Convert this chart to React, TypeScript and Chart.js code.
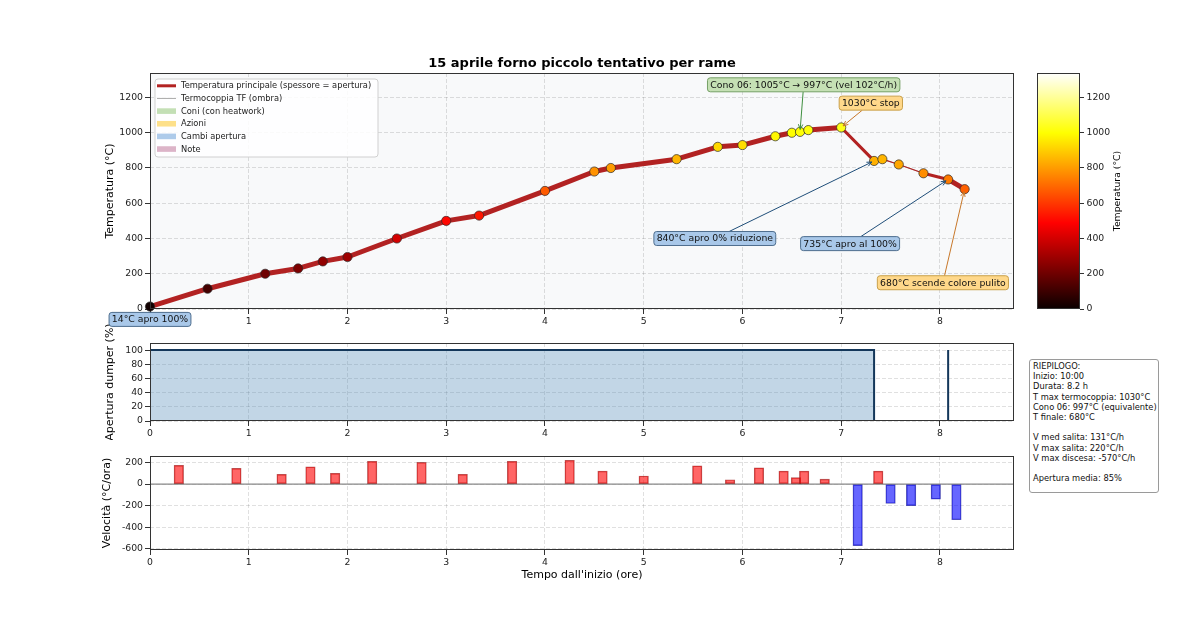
import React, { useEffect, useRef } from "react";
import { Chart, registerables } from "chart.js";

Chart.register(...registerables);

const FONT = "'DejaVu Sans', 'Liberation Sans', sans-serif";

// ---------------- DATA ----------------
const chartTitle = "15 aprile forno piccolo tentativo per rame";
const timesH = [0, 0.583, 1.167, 1.5, 1.75, 2.0, 2.5, 3.0, 3.333, 4.0, 4.5, 4.667, 5.333, 5.75, 6.0, 6.333, 6.5, 6.583, 6.667, 7.0, 7.333, 7.417, 7.583, 7.833, 8.083, 8.25];
const tempC = [14, 115, 200, 230, 270, 295, 400, 500, 530, 670, 780, 800, 850, 920, 930, 980, 1000, 1005, 1015, 1030, 840, 850, 820, 770, 735, 680];
const aperturaPct = [100, 100, 100, 100, 100, 100, 100, 100, 100, 100, 100, 100, 100, 100, 100, 100, 100, 100, 100, 100, 0, 0, 0, 0, 100, 100];

const dumperTimes = [0, 7.333, 8.083];
const dumperValues = [100, 0, 100];

const velTimes = [0.292, 0.875, 1.333, 1.625, 1.875, 2.25, 2.75, 3.167, 3.667, 4.25, 4.583, 5.0, 5.542, 5.875, 6.167, 6.417, 6.542, 6.625, 6.833, 7.167, 7.375, 7.5, 7.708, 7.958, 8.167];
const velValues = [173, 146, 90, 160, 100, 210, 200, 90, 210, 220, 120, 75, 168, 40, 150, 120, 60, 120, 45, -570, 120, -180, -200, -140, -330];

const xTicks = [0, 1, 2, 3, 4, 5, 6, 7, 8];
const tempTicks = [0, 200, 400, 600, 800, 1000, 1200];
const dumperTicks = [0, 20, 40, 60, 80, 100];
const velTicks = [-600, -400, -200, 0, 200];
const X_MAX = 8.75;
const TEMP_MAX = 1339;
const VEL_MIN = -609.5;
const VEL_MAX = 259.5;
const DUMPER_MAX = 110;

const legendLabels = [
  "Temperatura principale (spessore = apertura)",
  "Termocoppia TF (ombra)",
  "Coni (con heatwork)",
  "Azioni",
  "Cambi apertura",
  "Note",
];

// annotation: text, kind, target (time, temp), text anchor (time, temp)
const annTexts = [
  "14°C apro 100%",
  "Cono 06: 1005°C → 997°C (vel 102°C/h)",
  "1030°C stop",
  "840°C apro 0% riduzione",
  "735°C apro al 100%",
  "680°C scende colore pulito",
];
const annKinds = ["apertura", "cono", "azione", "apertura", "apertura", "azione"];
const annTargetT = [0, 6.583, 7.0, 7.333, 8.083, 8.25];
const annTargetV = [14, 1005, 1030, 840, 735, 680];
const annTextT = [0, 6.62, 7.3, 5.72, 7.09, 8.03];
const annTextV = [-59, 1272, 1168, 400, 371, 149];

const summaryLines = [
  "RIEPILOGO:",
  "Inizio: 10:00",
  "Durata: 8.2 h",
  "T max termocoppia: 1030°C",
  "Cono 06: 997°C (equivalente)",
  "T finale: 680°C",
  "",
  "V med salita: 131°C/h",
  "V max salita: 220°C/h",
  "V max discesa: -570°C/h",
  "",
  "Apertura media: 85%",
];

// ---------------- STYLES ----------------
const KIND_STYLE: Record<string, { face: string; edge: string; arrow: string }> = {
  apertura: { face: "#a9c8e9", edge: "#4e6e8e", arrow: "#1f4e79" },
  cono: { face: "#c5e0b4", edge: "#76a066", arrow: "#3f8f3f" },
  azione: { face: "#ffd88a", edge: "#c9a04a", arrow: "#c8782a" },
};
const LEGEND_PATCH = ["", "", "#c3dfb5", "#fde08a", "#aecbea", "#dcb4c8"];

function hot(v: number): string {
  const t = Math.max(0, Math.min(1, v / TEMP_MAX));
  const r = Math.min(1, 0.0416 + (t / 0.365079) * (1 - 0.0416));
  const g = Math.max(0, Math.min(1, (t - 0.365079) / (0.746032 - 0.365079)));
  const b = Math.max(0, Math.min(1, (t - 0.746032) / (1 - 0.746032)));
  return `rgb(${Math.round(r * 255)},${Math.round(g * 255)},${Math.round(b * 255)})`;
}

const TICK_FONT = { family: FONT, size: 9.3 };
const LABEL_FONT = { family: FONT, size: 11 };
const GRID_COLOR = "rgba(0,0,0,0.12)";
const TICK_COLOR = "#333";
const TEXT_COLOR = "#222";
const plainTick = (v: any) => String(v);

function fixWidth(w: number) {
  return (s: any) => {
    s.width = w;
  };
}
function fixHeight(h: number) {
  return (s: any) => {
    s.height = h;
  };
}

function xScale(height: number, titleText?: string) {
  return {
    type: "linear",
    min: 0,
    max: X_MAX,
    offset: false,
    afterBuildTicks: (s: any) => {
      s.ticks = xTicks.map((v) => ({ value: v }));
    },
    afterFit: fixHeight(height),
    ticks: { font: TICK_FONT, color: TEXT_COLOR, padding: 2, maxRotation: 0, autoSkip: false, callback: plainTick },
    grid: { color: GRID_COLOR, tickColor: TICK_COLOR, tickLength: 5, tickBorderDash: [], drawTicks: true, offset: false },
    border: { display: false, dash: [4, 2] },
    title: titleText
      ? { display: true, text: titleText, font: LABEL_FONT, color: "#000", padding: { top: 0, bottom: 28.4 } }
      : { display: false },
  };
}

function yScale(min: number, max: number, ticks: number[], titleText: string, padTop: number) {
  return {
    type: "linear",
    min,
    max,
    afterBuildTicks: (s: any) => {
      s.ticks = ticks.map((v) => ({ value: v }));
    },
    afterFit: fixWidth(55),
    ticks: { font: TICK_FONT, color: TEXT_COLOR, padding: 2, callback: plainTick },
    grid: { color: GRID_COLOR, tickColor: TICK_COLOR, tickLength: 5, tickBorderDash: [], drawTicks: true },
    border: { display: false, dash: [4, 2] },
    title: { display: true, text: titleText, font: LABEL_FONT, color: "#000", padding: { top: padTop, bottom: 0 } },
  };
}

function drawFrame(chart: any) {
  const { ctx, chartArea: a } = chart;
  ctx.save();
  ctx.strokeStyle = "#333";
  ctx.lineWidth = 1;
  ctx.strokeRect(a.left + 0.5, a.top + 0.5, a.right - a.left - 1, a.bottom - a.top - 1);
  ctx.restore();
}

function roundRect(ctx: CanvasRenderingContext2D, x: number, y: number, w: number, h: number, r: number) {
  ctx.beginPath();
  ctx.moveTo(x + r, y);
  ctx.lineTo(x + w - r, y);
  ctx.quadraticCurveTo(x + w, y, x + w, y + r);
  ctx.lineTo(x + w, y + h - r);
  ctx.quadraticCurveTo(x + w, y + h, x + w - r, y + h);
  ctx.lineTo(x + r, y + h);
  ctx.quadraticCurveTo(x, y + h, x, y + h - r);
  ctx.lineTo(x, y + r);
  ctx.quadraticCurveTo(x, y, x + r, y);
  ctx.closePath();
}

const topPlugin = {
  id: "topDecor",
  beforeDraw(chart: any) {
    const { ctx, chartArea: a } = chart;
    ctx.save();
    ctx.fillStyle = "#f8f9fa";
    ctx.fillRect(a.left, a.top, a.right - a.left, a.bottom - a.top);
    ctx.restore();
  },
  afterDraw(chart: any) {
    const { ctx, chartArea: a } = chart;
    const xs = chart.scales.x;
    const ys = chart.scales.y;
    drawFrame(chart);

    // title
    ctx.save();
    ctx.font = `bold 13px ${FONT}`;
    ctx.fillStyle = "#000";
    ctx.textAlign = "center";
    ctx.textBaseline = "middle";
    ctx.fillText(chartTitle, (a.left + a.right) / 2, a.top - 9);
    ctx.restore();

    // legend
    ctx.save();
    const lx = a.left + 5;
    const ly = a.top + 6;
    const lw = 223;
    const lh = 78;
    roundRect(ctx, lx, ly, lw, lh, 3);
    ctx.fillStyle = "rgba(255,255,255,0.85)";
    ctx.fill();
    ctx.strokeStyle = "#d0d0d0";
    ctx.lineWidth = 1;
    ctx.stroke();
    ctx.font = `8.3px ${FONT}`;
    ctx.textBaseline = "middle";
    legendLabels.forEach((label, i) => {
      const cy = ly + 6.8 + i * 12.65;
      const hx = lx + 2;
      if (i === 0) {
        ctx.strokeStyle = "#b22222";
        ctx.lineWidth = 3;
        ctx.beginPath();
        ctx.moveTo(hx, cy);
        ctx.lineTo(hx + 19, cy);
        ctx.stroke();
      } else if (i === 1) {
        ctx.strokeStyle = "#aaaaaa";
        ctx.lineWidth = 1;
        ctx.beginPath();
        ctx.moveTo(hx, cy);
        ctx.lineTo(hx + 19, cy);
        ctx.stroke();
      } else {
        ctx.fillStyle = LEGEND_PATCH[i];
        ctx.fillRect(hx, cy - 2.8, 19, 5.6);
      }
      ctx.fillStyle = "#222";
      ctx.fillText(label, lx + 26, cy + 0.3);
    });
    ctx.restore();

    // annotations
    ctx.save();
    ctx.font = `9.3px ${FONT}`;
    annTexts.forEach((text, i) => {
      const st = KIND_STYLE[annKinds[i]];
      const cx = xs.getPixelForValue(annTextT[i]);
      const cy = ys.getPixelForValue(annTextV[i]);
      const tx = xs.getPixelForValue(annTargetT[i]);
      const ty = ys.getPixelForValue(annTargetV[i]);
      const tw = ctx.measureText(text).width;
      const bw = tw + 5.5;
      const bh = 14;
      const hw = bw / 2;
      const hh = bh / 2;
      const dx = tx - cx;
      const dy = ty - cy;
      const insideX = Math.abs(dx) <= hw;
      const insideY = Math.abs(dy) <= hh;
      if (!(insideX && insideY)) {
        const s = Math.min(dx !== 0 ? hw / Math.abs(dx) : Infinity, dy !== 0 ? hh / Math.abs(dy) : Infinity);
        const sx = cx + dx * s;
        const sy = cy + dy * s;
        const len = Math.hypot(tx - sx, ty - sy);
        if (len > 6) {
          const ux = (tx - sx) / len;
          const uy = (ty - sy) / len;
          const ex = tx - ux * 2.5;
          const ey = ty - uy * 2.5;
          ctx.strokeStyle = st.arrow;
          ctx.lineWidth = 1;
          ctx.beginPath();
          ctx.moveTo(sx, sy);
          ctx.lineTo(ex, ey);
          ctx.stroke();
          const ah = 5;
          const aw = 2.2;
          ctx.beginPath();
          ctx.moveTo(ex - ux * ah - uy * aw, ey - uy * ah + ux * aw);
          ctx.lineTo(ex, ey);
          ctx.lineTo(ex - ux * ah + uy * aw, ey - uy * ah - ux * aw);
          ctx.stroke();
        }
      }
      roundRect(ctx, cx - hw, cy - hh, bw, bh, 2.8);
      ctx.fillStyle = st.face;
      ctx.fill();
      ctx.strokeStyle = st.edge;
      ctx.lineWidth = 1;
      ctx.stroke();
      ctx.fillStyle = "#111";
      ctx.textAlign = "center";
      ctx.textBaseline = "middle";
      ctx.fillText(text, cx, cy + 0.5);
    });
    ctx.restore();
  },
};

const framePlugin = {
  id: "frameOnly",
  afterDraw(chart: any) {
    drawFrame(chart);
  },
};

const velPlugin = {
  id: "velZero",
  beforeDatasetsDraw(chart: any) {
    const { ctx, chartArea: a } = chart;
    const y0 = chart.scales.y.getPixelForValue(0);
    ctx.save();
    ctx.strokeStyle = "#888";
    ctx.lineWidth = 1.2;
    ctx.beginPath();
    ctx.moveTo(a.left, y0);
    ctx.lineTo(a.right, y0);
    ctx.stroke();
    ctx.restore();
  },
  afterDraw(chart: any) {
    drawFrame(chart);
  },
};

const cbarPlugin = {
  id: "cbar",
  beforeDraw(chart: any) {
    const { ctx, chartArea: a } = chart;
    const ys = chart.scales.y;
    const y0 = ys.getPixelForValue(0);
    const y1 = ys.getPixelForValue(TEMP_MAX);
    const g = ctx.createLinearGradient(0, y0, 0, y1);
    g.addColorStop(0, "rgb(10,0,0)");
    g.addColorStop(0.365079, "rgb(255,0,0)");
    g.addColorStop(0.746032, "rgb(255,255,0)");
    g.addColorStop(1, "rgb(255,255,255)");
    ctx.save();
    ctx.fillStyle = g;
    ctx.fillRect(a.left, a.top, a.right - a.left, a.bottom - a.top);
    ctx.restore();
  },
  afterDraw(chart: any) {
    const { ctx, chartArea: a } = chart;
    drawFrame(chart);
    ctx.save();
    ctx.font = `9.3px ${FONT}`;
    ctx.fillStyle = "#000";
    ctx.textAlign = "center";
    ctx.textBaseline = "middle";
    ctx.translate(a.right + 37.5, (a.top + a.bottom) / 2);
    ctx.rotate(-Math.PI / 2);
    ctx.fillText("Temperatura (°C)", 0, 0);
    ctx.restore();
  },
};

function useChart(ref: React.RefObject<HTMLCanvasElement | null>, make: (c: HTMLCanvasElement) => Chart) {
  useEffect(() => {
    if (!ref.current) return;
    const ch = make(ref.current);
    return () => ch.destroy();
  }, []);
}

export default function App() {
  const topRef = useRef<HTMLCanvasElement>(null);
  const midRef = useRef<HTMLCanvasElement>(null);
  const botRef = useRef<HTMLCanvasElement>(null);
  const cbRef = useRef<HTMLCanvasElement>(null);

  useEffect(() => {
    document.body.style.margin = "0";
  }, []);

  useChart(topRef, (c) => {
    const pts = timesH.map((t, i) => ({ x: t, y: tempC[i] }));
    const segW = (i0: number, i1: number) => 1.2 + (3.8 * (aperturaPct[i0] + aperturaPct[i1])) / 200;
    return new Chart(c, {
      type: "line",
      data: {
        datasets: [
          {
            label: legendLabels[0],
            data: pts,
            borderColor: "#b22222",
            borderWidth: 5,
            borderCapStyle: "round",
            borderJoinStyle: "round",
            segment: { borderWidth: (ctx: any) => segW(ctx.p0DataIndex, ctx.p1DataIndex) },
            pointRadius: 4.6,
            pointBackgroundColor: tempC.map((v) => hot(v)),
            pointBorderColor: "#2a2a2a",
            pointBorderWidth: 0.7,
            tension: 0,
            clip: 8,
            order: 1,
          } as any,
          {
            label: legendLabels[1],
            data: pts,
            borderColor: "#aaaaaa",
            borderWidth: 1,
            pointRadius: 0,
            tension: 0,
            order: 2,
          },
        ],
      },
      options: {
        responsive: false,
        animation: false,
        layout: { padding: { left: 95, right: 186, top: 73, bottom: 0 } },
        plugins: { legend: { display: false }, tooltip: { enabled: false }, title: { display: false } },
        scales: {
          x: xScale(26) as any,
          y: yScale(0, TEMP_MAX, tempTicks, "Temperatura (°C)", 8.4) as any,
        },
      },
      plugins: [topPlugin],
    });
  });

  useChart(midRef, (c) => {
    return new Chart(c, {
      type: "line",
      data: {
        datasets: [
          {
            label: "Apertura dumper",
            data: dumperTimes.map((t, i) => ({ x: t, y: dumperValues[i] })),
            stepped: "before",
            borderColor: "#14375a",
            borderWidth: 2,
            backgroundColor: "rgba(70,130,180,0.33)",
            fill: "origin",
            pointRadius: 0,
          } as any,
        ],
      },
      options: {
        responsive: false,
        animation: false,
        layout: { padding: { left: 95, right: 186, top: 43, bottom: 0 } },
        plugins: { legend: { display: false }, tooltip: { enabled: false } },
        scales: {
          x: xScale(19) as any,
          y: yScale(0, DUMPER_MAX, dumperTicks, "Apertura dumper (%)", 8.4) as any,
        },
      },
      plugins: [framePlugin],
    });
  });

  useChart(botRef, (c) => {
    return new Chart(c, {
      type: "bar",
      data: {
        datasets: [
          {
            label: "Velocità",
            data: velTimes.map((t, i) => ({ x: t, y: velValues[i] })),
            backgroundColor: velValues.map((v) => (v >= 0 ? "rgba(255,0,0,0.6)" : "rgba(0,0,255,0.6)")),
            borderColor: velValues.map((v) => (v >= 0 ? "rgba(150,20,20,0.7)" : "rgba(20,20,150,0.7)")),
            borderWidth: 0.8,
            barThickness: 9.5,
            grouped: false,
            borderSkipped: false,
          } as any,
        ],
      },
      options: {
        responsive: false,
        animation: false,
        layout: { padding: { left: 95, right: 186, top: 16, bottom: 0 } },
        plugins: { legend: { display: false }, tooltip: { enabled: false } },
        scales: {
          x: xScale(60, "Tempo dall'inizio (ore)") as any,
          y: yScale(VEL_MIN, VEL_MAX, velTicks, "Velocità (°C/ora)", 5.4) as any,
        },
      },
      plugins: [velPlugin],
    });
  });

  useChart(cbRef, (c) => {
    return new Chart(c, {
      type: "scatter",
      data: { datasets: [] },
      options: {
        responsive: false,
        animation: false,
        layout: { padding: { left: 37, right: 60, top: 73, bottom: 21 } },
        plugins: { legend: { display: false }, tooltip: { enabled: false } },
        scales: {
          x: { display: false, min: 0, max: 1 },
          y: {
            type: "linear",
            position: "right",
            min: 0,
            max: TEMP_MAX,
            afterBuildTicks: (s: any) => {
              s.ticks = tempTicks.map((v) => ({ value: v }));
            },
            afterFit: fixWidth(60),
            ticks: { font: TICK_FONT, color: TEXT_COLOR, padding: 2.5, callback: plainTick },
            grid: { drawOnChartArea: false, tickColor: TICK_COLOR, tickLength: 4, drawTicks: true },
            border: { display: false },
          } as any,
        },
      },
      plugins: [cbarPlugin],
    });
  });

  const wrap: React.CSSProperties = { position: "fixed", left: 0, top: 0, width: 1200, height: 618, background: "#fff", overflow: "hidden" };
  const abs = (top: number, left: number, z: number, w: number, h: number): React.CSSProperties => ({
    position: "absolute",
    top,
    left,
    zIndex: z,
    width: w,
    height: h,
  });

  return (
    <div style={wrap}>
      <canvas ref={topRef} width={1200} height={335} style={abs(0, 0, 3, 1200, 335)} />
      <canvas ref={midRef} width={1200} height={140} style={abs(300, 0, 2, 1200, 140)} />
      <canvas ref={botRef} width={1200} height={170} style={abs(440, 0, 1, 1200, 170)} />
      <canvas ref={cbRef} width={200} height={330} style={abs(0, 1000, 4, 200, 330)} />
      <div
        style={{
          position: "absolute",
          left: 1029,
          top: 359,
          width: 130,
          height: 134,
          boxSizing: "border-box",
          border: "1px solid #9a9a9a",
          borderRadius: 3,
          background: "#fff",
          padding: "1px 3px",
          fontFamily: FONT,
          fontSize: "8.3px",
          lineHeight: "10.2px",
          color: "#111",
          whiteSpace: "pre",
          zIndex: 5,
        }}
      >
        {summaryLines.map((l, i) => (
          <div key={i}>{l === "" ? "\u00a0" : l}</div>
        ))}
      </div>
    </div>
  );
}
